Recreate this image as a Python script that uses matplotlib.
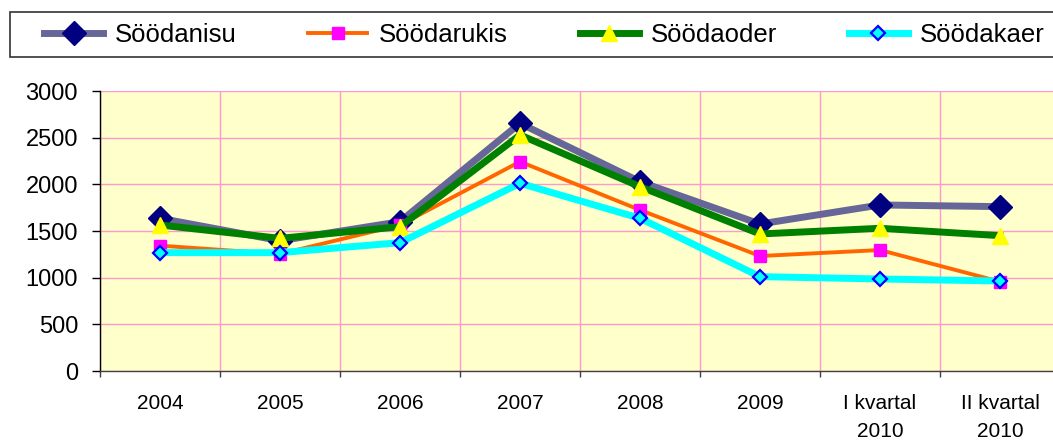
import matplotlib
matplotlib.use("Agg")
import matplotlib.pyplot as plt
from matplotlib.patches import Rectangle

plt.rcParams['font.family'] = ['Liberation Sans', 'DejaVu Sans']

categories = ["2004", "2005", "2006", "2007", "2008", "2009", "I kvartal\n2010", "II kvartal\n2010"]
soodanisu = [1636, 1396, 1600, 2654, 2028, 1575, 1779, 1761]
soodarukis = [1343, 1254, 1564, 2243, 1725, 1232, 1296, 957]
soodaoder = [1564, 1421, 1546, 2529, 1975, 1468, 1529, 1450]
soodakaer = [1268, 1268, 1375, 2011, 1636, 1011, 986, 964]
series_names = ["Söödanisu", "Söödarukis", "Söödaoder", "Söödakaer"]
y_ticks = [0, 500, 1000, 1500, 2000, 2500, 3000]

W, H = 1053, 441
fig = plt.figure(figsize=(W / 100, H / 100), dpi=100)
ax = fig.add_axes([100 / W, 70 / H, 960 / W, 280 / H])
ax.set_facecolor("#FFFFCC")

x = list(range(len(categories)))
styles = [
    dict(color="#666699", lw=5, marker="D", ms=12, mfc="#000080", mec="#000080", mew=1),
    dict(color="#FF6600", lw=2.8, marker="s", ms=9, mfc="#FF00FF", mec="#FF00FF", mew=1),
    dict(color="#008000", lw=5, marker="^", ms=12, mfc="#FFFF00", mec="#FFFF00", mew=1),
    dict(color="#00FFFF", lw=5, marker="D", ms=7, mfc="#00FFFF", mec="#0000FF", mew=1.6),
]
handles = []
for vals, name, st in zip([soodanisu, soodarukis, soodaoder, soodakaer], series_names, styles):
    h, = ax.plot(x, vals, label=name, solid_joinstyle="miter", zorder=3, **st)
    handles.append(h)

ax.set_xlim(-0.5, len(categories) - 0.5)
ax.set_ylim(0, 3000)
ax.set_yticks(y_ticks)
ax.set_yticklabels([str(v) for v in y_ticks])
ax.tick_params(axis="y", length=5.8, width=1, direction="out", pad=10, labelsize=17, color="black")

bounds = [i - 0.5 for i in range(len(categories) + 1)]
ax.set_xticks(bounds)
ax.set_xticklabels([""] * len(bounds))
ax.set_xticks(x, minor=True)
ax.set_xticklabels(categories, minor=True, fontsize=15, linespacing=1.6)
ax.tick_params(axis="x", which="major", length=4.3, width=1, direction="out", color="#404040")
ax.tick_params(axis="x", which="minor", length=0, pad=16.5)

ax.grid(True, which="major", color="#FF99CC", lw=1, zorder=0)
ax.set_axisbelow(True)
for s in ["top", "right"]:
    ax.spines[s].set_visible(False)
ax.spines["left"].set_color("#000000")
ax.spines["bottom"].set_color("#404040")
ax.spines["left"].set_linewidth(1)
ax.spines["bottom"].set_linewidth(1)

# legend frame
fig.add_artist(Rectangle((10 / W, 1 - 57 / H), 1050 / W, 45 / H, transform=fig.transFigure,
                         facecolor="white", edgecolor="#333333", lw=1.2, zorder=0))
fig.legend(handles, series_names, ncol=4, loc="center left",
           bbox_to_anchor=(44 / W, 1 - 34.5 / H), frameon=False, fontsize=18.5,
           handlelength=2.3, handletextpad=0.45, columnspacing=2.8, borderpad=0,
           borderaxespad=0)

fig.savefig("out.png", dpi=100)
